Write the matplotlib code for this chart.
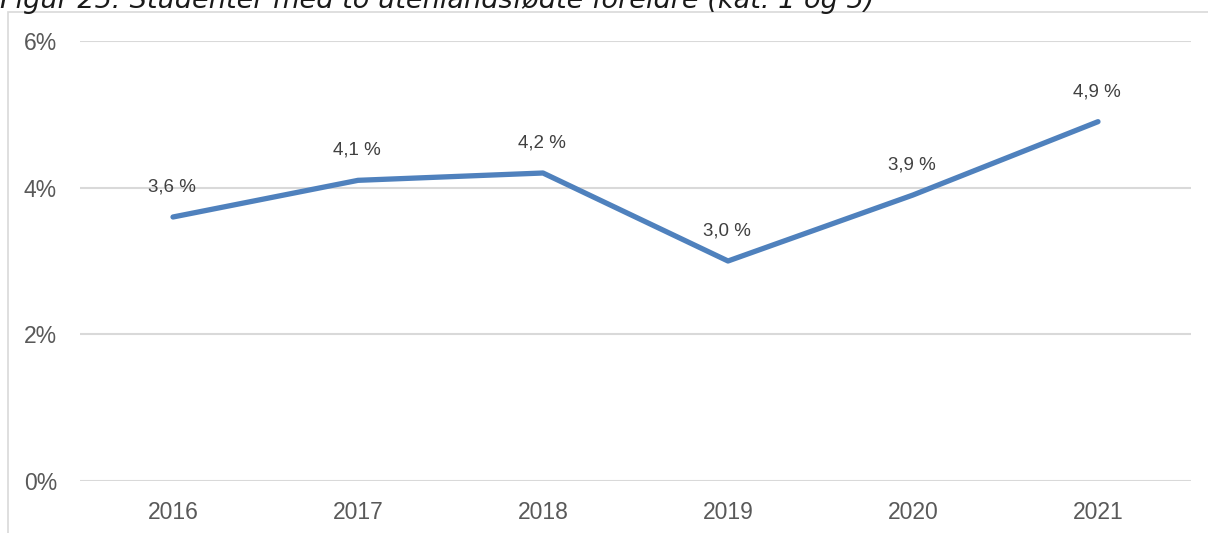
import matplotlib.pyplot as plt
from matplotlib.patches import Rectangle

# data
years = ['2016', '2017', '2018', '2019', '2020', '2021']
share = [3.6, 4.1, 4.2, 3.0, 3.9, 4.9]
labels = ['3,6 %', '4,1 %', '4,2 %', '3,0 %', '3,9 %', '4,9 %']
yticks = [0, 2, 4, 6]
yticklabels = ['0%', '2%', '4%', '6%']

W, H = 1208, 533
fig = plt.figure(figsize=(W / 100, H / 100), dpi=100)

# outer chart frame
fig.patches.append(Rectangle((8 / W, -0.1), 1.2, 1.1 - 12 / H, transform=fig.transFigure,
                             fill=False, edgecolor='#d9d9d9', linewidth=1.2))

# title, cut off at top as in the original
fig.text(0.0, 1 - 8 / H, 'Figur 25: Studenter med to utenlandsfødte foreldre (kat. 1 og 5)',
         fontsize=19.5, fontstyle='italic', family='DejaVu Sans', color='#1a1a1a',
         ha='left', va='baseline')

ax = fig.add_axes([80.5 / W, (H - 481) / H, 1110 / W, 440 / H])
x = range(len(years))
ax.plot(x, share, color='#4f81bd', linewidth=3.8, solid_capstyle='round')
for xi, v, lab in zip(x, share, labels):
    ax.annotate(lab, (xi, v), xytext=(-1, 15.5), textcoords='offset points',
                ha='center', va='bottom', fontsize=13.5, color='#404040',
                family='Liberation Sans')

ax.set_xlim(-0.5, len(years) - 0.5)
ax.set_ylim(0, 6)
ax.set_xticks(list(x))
ax.set_xticklabels(years)
ax.set_yticks(yticks)
ax.set_yticklabels(yticklabels)
for t in ax.get_xticklabels() + ax.get_yticklabels():
    t.set_family('Liberation Sans')
    t.set_fontsize(16.5)
    t.set_color('#595959')
ax.tick_params(axis='x', length=0, pad=14.5)
ax.tick_params(axis='y', length=0, pad=17)
ax.grid(axis='y', color='#d9d9d9', linewidth=1.5)
ax.set_axisbelow(True)
for s in ax.spines.values():
    s.set_visible(False)

fig.savefig('out.png', dpi=100)
